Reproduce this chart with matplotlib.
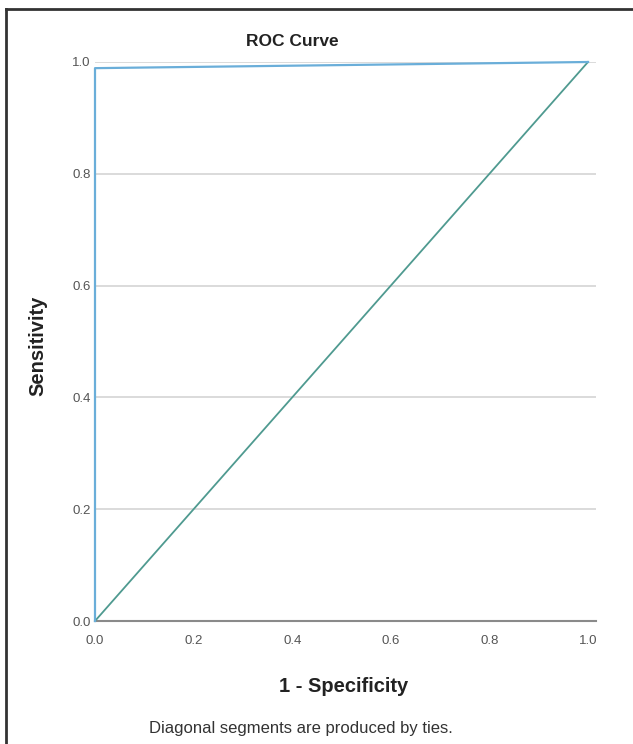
import matplotlib
matplotlib.use("Agg")
import matplotlib.pyplot as plt
from matplotlib.lines import Line2D

plt.rcParams['font.family'] = ['Liberation Sans', 'DejaVu Sans']

# Data
roc_fpr = [0.0, 0.0, 1.0]
roc_tpr = [0.0, 0.989, 1.0]
ref_x = [0.0, 1.0]
ref_y = [0.0, 1.0]
ticks = [0.0, 0.2, 0.4, 0.6, 0.8, 1.0]
tick_labels = ["0.0", "0.2", "0.4", "0.6", "0.8", "1.0"]

W, H = 633, 744
fig = plt.figure(figsize=(W/100, H/100), dpi=100)
fig.patch.set_facecolor('white')

x0, x1 = 95, 596
y0, y1 = 621, 62
ax = fig.add_axes([x0/W, 1 - y0/H, (x1-x0)/W, (y0-y1)/H])
ax.set_xlim(0, (x1-x0)/493)
ax.set_ylim(0, 1.0)

for s in ['top', 'right', 'left']:
    ax.spines[s].set_visible(False)
ax.spines['bottom'].set_color('#8a8a8a')
ax.spines['bottom'].set_linewidth(1.5)

ax.yaxis.grid(True, color='#d4d4d4', linewidth=1.2)
ax.set_axisbelow(True)

ax.set_yticks(ticks)
ax.set_yticklabels(tick_labels)
ax.set_xticks(ticks)
ax.set_xticklabels(tick_labels)
ax.tick_params(axis='both', length=0, labelsize=9.5, labelcolor='#555555')
ax.tick_params(axis='x', pad=10)
ax.tick_params(axis='y', pad=3)

ax.plot(ref_x, ref_y, color='#4f9a90', linewidth=1.3, clip_on=False, zorder=3)
ax.plot(roc_fpr, roc_tpr, color='#6aaed9', linewidth=1.6, clip_on=False, zorder=4)

fig.text(292/W, 1 - 42/H, "ROC Curve", ha='center', va='center',
         fontsize=12.5, fontweight='bold', color='#222222')
fig.text(344/W, 1 - 686/H, "1 - Specificity", ha='center', va='center',
         fontsize=14.5, fontweight='bold', color='#222222')
fig.text(38/W, 1 - 346/H, "Sensitivity", ha='center', va='center',
         rotation=90, fontsize=14.5, fontweight='bold', color='#222222')
fig.text(301/W, 1 - 728/H, "Diagonal segments are produced by ties.",
         ha='center', va='center', fontsize=12, color='#333333')

# frame border (top and left edges visible)
fig.add_artist(Line2D([6/W, 6/W], [0, 1 - 9/H], transform=fig.transFigure,
                      color='#333333', linewidth=2))
fig.add_artist(Line2D([6/W, 1], [1 - 9/H, 1 - 9/H], transform=fig.transFigure,
                      color='#333333', linewidth=2))

fig.savefig("out.png", dpi=100)
